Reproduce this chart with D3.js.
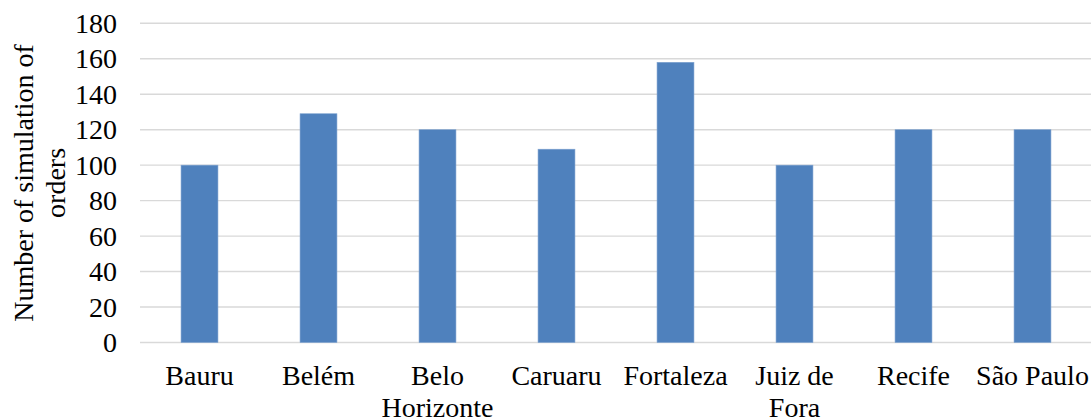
<!DOCTYPE html>
<html>
<head>
<meta charset="utf-8">
<script src="https://cdn.jsdelivr.net/npm/d3@7"></script>
<style>
  body { margin: 0; background: #fff; }
  text { font-family: "Liberation Serif", "Times New Roman", serif; fill: #000; }
</style>
</head>
<body>
<div id="chart"></div>
<script>
// data
var cities = ["Bauru", "Belém", "Belo Horizonte", "Caruaru", "Fortaleza", "Juiz de Fora", "Recife", "São Paulo"];
var orders = [100, 129, 120, 109, 158, 100, 120, 120];
var yTicks = [0, 20, 40, 60, 80, 100, 120, 140, 160, 180];
var yTitle = ["Number of simulation of", "orders"];

var width = 1091, height = 419;
var margin = { top: 23.3, right: -1, bottom: 76.5, left: 140 };
var fontSize = 28;
var serif = '"Liberation Serif", "Times New Roman", serif';

var svg = d3.select("#chart")
    .append("svg")
    .attr("width", width)
    .attr("height", height);

var x = d3.scaleBand()
    .domain(cities)
    .range([margin.left, width - margin.right])
    .paddingInner(0.69)
    .paddingOuter(0.345);

var y = d3.scaleLinear()
    .domain([0, 180])
    .range([height - margin.bottom, margin.top]);

// gridlines
svg.append("g")
    .selectAll("line")
    .data(yTicks)
    .enter()
    .append("line")
    .attr("x1", margin.left)
    .attr("x2", width - margin.right)
    .attr("y1", function (d) { return y(d); })
    .attr("y2", function (d) { return y(d); })
    .attr("stroke", "#d9d9d9")
    .attr("stroke-width", 1.4);

// y axis labels
var yAxis = svg.append("g")
    .attr("transform", "translate(" + (margin.left - 23) + ",0)")
    .call(d3.axisLeft(y).tickValues(yTicks).tickSize(0).tickPadding(0))
    .attr("font-family", serif)
    .attr("font-size", fontSize);
yAxis.select(".domain").remove();

// bars
svg.append("g")
    .selectAll("rect")
    .data(orders)
    .enter()
    .append("rect")
    .attr("x", function (d, i) { return x(cities[i]); })
    .attr("y", function (d) { return y(d); })
    .attr("width", x.bandwidth())
    .attr("height", function (d) { return y(0) - y(d); })
    .attr("fill", "#4f81bd")
    .attr("stroke", "#7fa3d0")
    .attr("stroke-width", 0.6);

// x axis labels, wrapped to the band step
var xAxis = svg.append("g")
    .attr("transform", "translate(0," + y(0) + ")")
    .call(d3.axisBottom(x).tickSize(0).tickPadding(0))
    .attr("font-family", serif);
xAxis.select(".domain").remove();
xAxis.selectAll("text").remove();

xAxis.selectAll(".tick").each(function (name) {
    var g = d3.select(this);
    var t = g.append("text")
        .attr("text-anchor", "middle")
        .attr("font-size", fontSize)
        .attr("y", 42);
    var words = name.split(" ");
    var line = [];
    var tspan = t.append("tspan").attr("x", 0).attr("dy", 0);
    words.forEach(function (w) {
        line.push(w);
        tspan.text(line.join(" "));
        if (tspan.node().getComputedTextLength() > x.step() - 4 && line.length > 1) {
            line.pop();
            tspan.text(line.join(" "));
            line = [w];
            tspan = t.append("tspan").attr("x", 0).attr("dy", 32).text(w);
        }
    });
});

// y axis title
var title = svg.append("text")
    .attr("transform", "translate(33," + ((y(0) + y(180)) / 2) + ") rotate(-90)")
    .attr("text-anchor", "middle")
    .attr("font-size", fontSize);
yTitle.forEach(function (s, i) {
    title.append("tspan")
        .attr("x", 0)
        .attr("dy", i == 0 ? 0 : 32)
        .text(s);
});
</script>
</body>
</html>
